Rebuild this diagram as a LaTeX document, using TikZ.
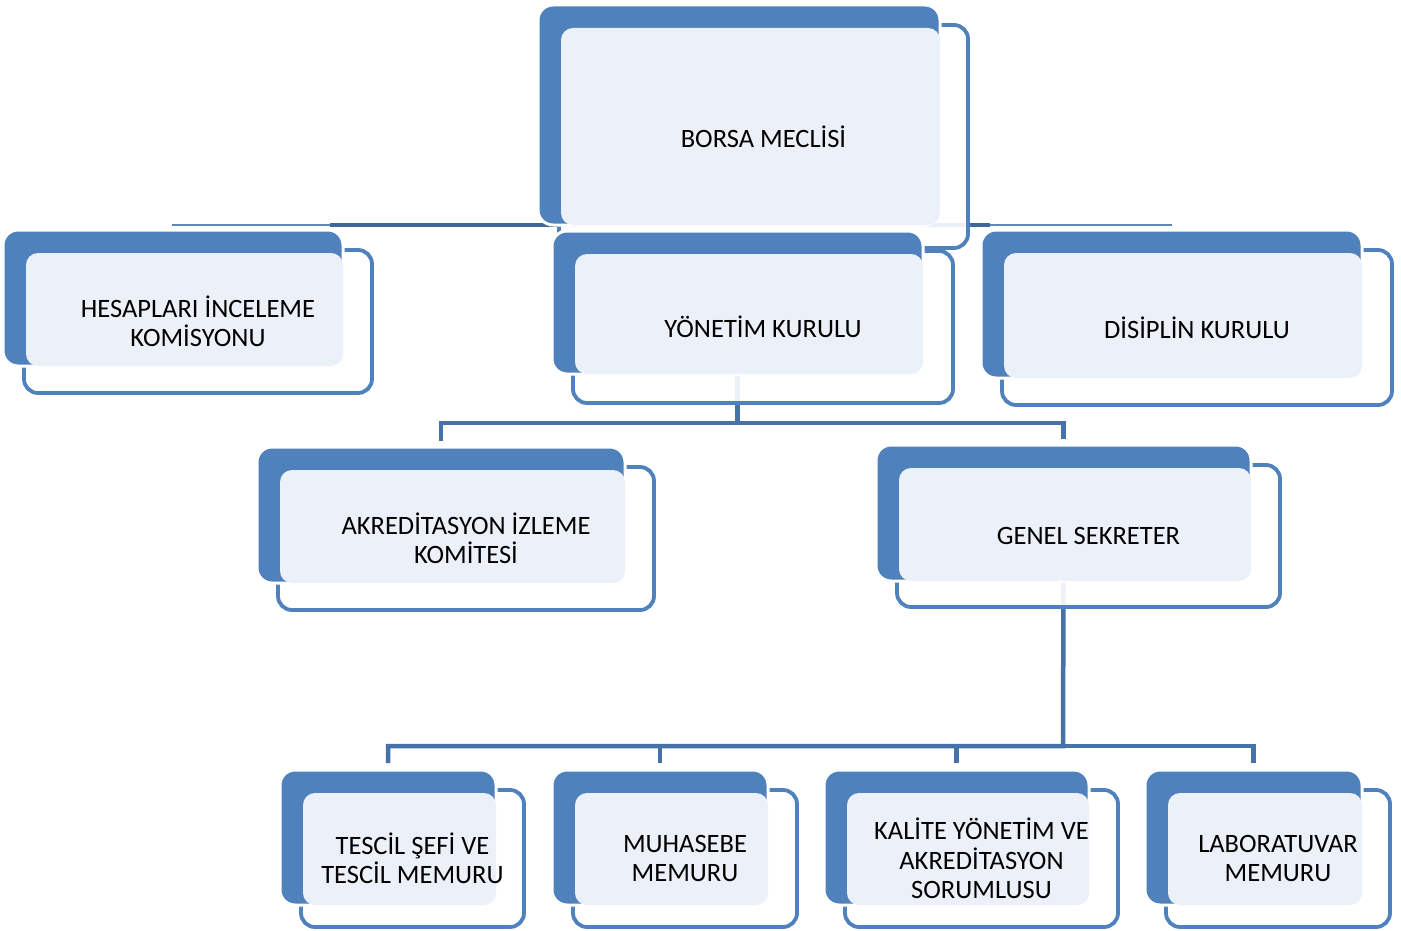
\documentclass[tikz,border=0pt]{standalone}
\usepackage{fontspec}
\setmainfont{Carlito}
\usetikzlibrary{calc}
\definecolor{obBlue}{HTML}{4F81BD}
\definecolor{obLight}{HTML}{ECF1F9}
\definecolor{obConn}{HTML}{4672AA}
\definecolor{obDark}{HTML}{3F6798}
\definecolor{obThin}{HTML}{5F87B8}
\tikzset{
  outl/.style={draw=obBlue, line width=3.8pt, fill=white, fill opacity=0.9, rounded corners=14pt, inner sep=0pt, outer sep=0pt, rectangle},
  bluebox/.style={draw=white, line width=3pt, fill=obBlue, rounded corners=15pt, inner sep=0pt, outer sep=0pt, rectangle},
  lightbox/.style={fill=obLight, rounded corners=12pt, inner sep=0pt, outer sep=0pt, rectangle},
  lbl/.style={font=\fontsize{26.5}{29.5}\selectfont, align=center, text=black, inner sep=0pt},
  conn/.style={draw=obConn, line width=4.5pt},
  anchorpt/.style={inner sep=0pt, minimum size=0pt, outer sep=0pt},
}
\newcommand\obox[8]{%
  \pgfmathsetmacro\oxa{#2+21}\pgfmathsetmacro\oya{#3+20}%
  \node[outl, minimum width={#6-\oxa}, minimum height={#7-\oya}] (#1) at ({(\oxa+#6)/2},{(\oya+#7)/2}) {};
  \node[bluebox, minimum width={#4-#2}, minimum height={#5-#3}] (#1-b) at ({(#2+#4)/2},{(#3+#5)/2}) {};
  \node[lightbox, minimum width={#4-\oxa-2}, minimum height={#5-\oya-3}] (#1-l) at ({(\oxa+2+#4)/2},{(\oya+3+#5)/2}) {};
  \node[lbl] (#1-t) at (#1.center) {#8};
}
\begin{document}
\begin{tikzpicture}[x=1pt,y=-1pt]
\useasboundingbox[fill=white] (0,0) rectangle (1401,931);
% top line
\coordinate (tl) at (172,225);
\coordinate (tr) at (1172,225);
\coordinate (tdl) at (330,225);
\coordinate (tdr) at (990,225);
\draw[obThin, line width=2.5pt] (tl) -- (tr);
\draw[obDark, line width=4pt] (tdl) -- (tdr);
% bus points
\coordinate (bus1) at (738,423);
\coordinate (bus2) at (1063,746);
% connector end points (box edge centres)
\node[anchorpt] (ykc) at (737.5,374) {};
\node[anchorpt] (aikc) at (441,447) {};
\node[anchorpt] (gsc) at (1063.5,445) {};
\node[anchorpt] (gsd) at (1063.5,581) {};
\node[anchorpt] (tmc) at (388,770) {};
\node[anchorpt] (mmc) at (660,770) {};
\node[anchorpt] (kyc) at (956.5,770) {};
\node[anchorpt] (lmc) at (1253.5,770) {};
\draw[conn] (ykc) -- (ykc |- bus1) -| ([yshift=6pt]aikc.north);
\draw[conn] (ykc |- bus1) -| ([yshift=6pt]gsc.north);
\draw[conn] (gsd) -- (bus2) -| ([yshift=7pt]tmc.north);
\draw[conn] (bus2) -| ([yshift=7pt]lmc.north);
\draw[conn] (mmc |- bus2) -- ([yshift=7pt]mmc.north);
\draw[conn] (kyc |- bus2) -- ([yshift=7pt]kyc.north);
% boxes
\obox{bm}{538}{5}{940}{225}{968}{248}{BORSA MECLİSİ}
\obox{hik}{3}{230}{343}{366}{372}{393}{HESAPLARI İNCELEME\\KOMİSYONU}
\obox{yk}{552}{231}{923}{374}{953}{403}{YÖNETİM KURULU}
\obox{dk}{981}{230}{1362}{378}{1392}{405}{DİSİPLİN KURULU}
\obox{aik}{257}{447}{625}{583}{654}{610}{AKREDİTASYON İZLEME\\KOMİTESİ}
\obox{gs}{876}{445}{1251}{581}{1280}{607}{GENEL SEKRETER}
\obox{tm}{280}{770}{496}{905}{524}{927}{TESCİL ŞEFİ VE\\TESCİL MEMURU}
\obox{mm}{552}{770}{768}{905}{797}{927}{MUHASEBE\\MEMURU}
\obox{ky}{824}{770}{1089}{905}{1118}{927}{KALİTE YÖNETİM VE\\AKREDİTASYON\\SORUMLUSU}
\obox{lm}{1145}{770}{1362}{905}{1390}{927}{LABORATUVAR\\MEMURU}
\end{tikzpicture}
\end{document}
